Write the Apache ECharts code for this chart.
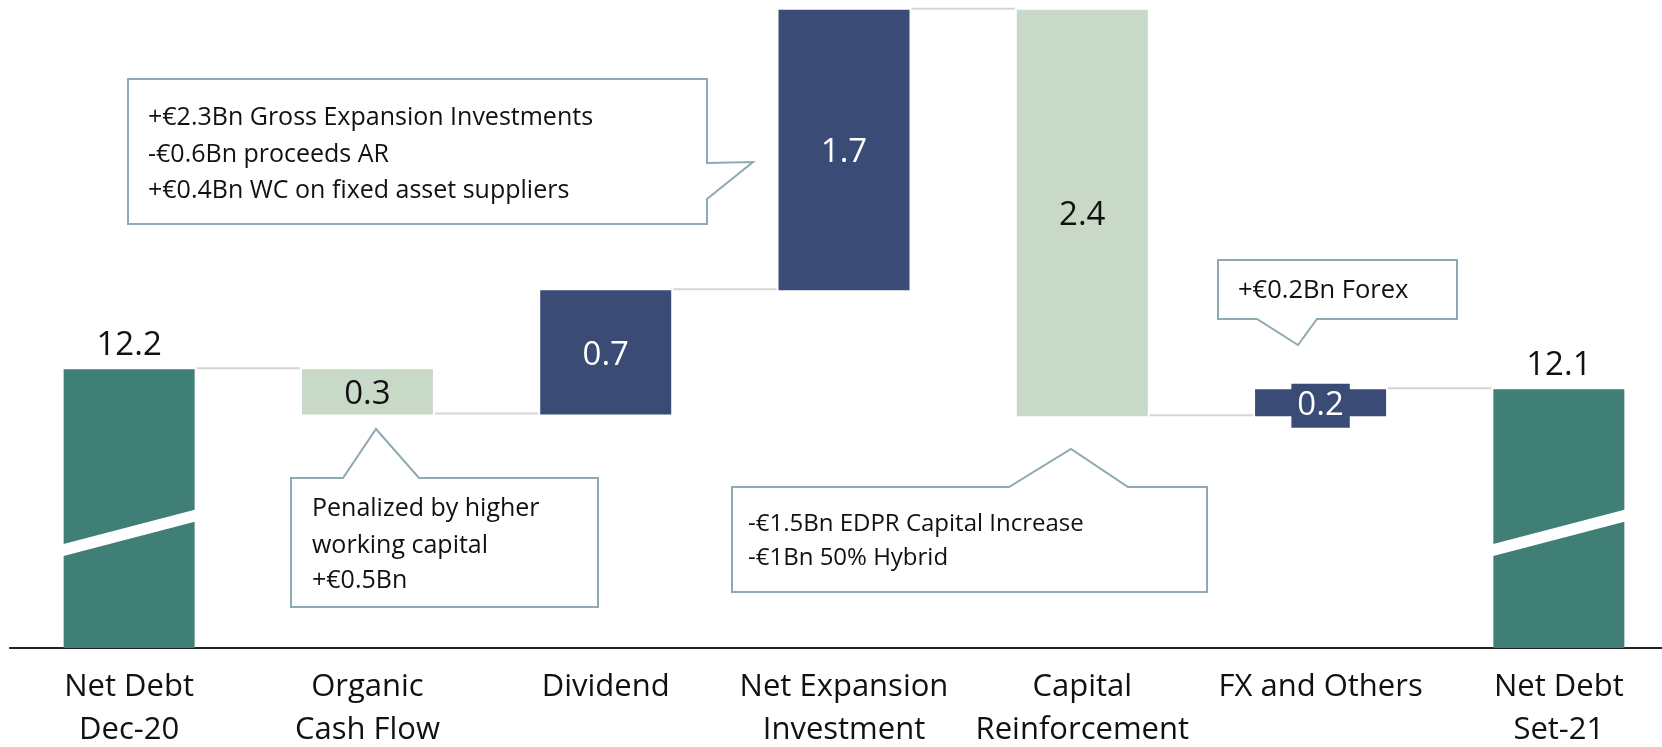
<!DOCTYPE html>
<html>
<head>
<meta charset="utf-8">
<script src="https://cdn.jsdelivr.net/npm/echarts@6/dist/echarts.min.js"></script>
<style>
html,body{margin:0;padding:0;background:#fff;}
#chart{width:1662px;height:747px;}
</style>
</head>
<body>
<div id="chart"></div>
<script>
// ---- data ----
const categories = ['Net Debt\nDec-20', 'Organic\nCash Flow', 'Dividend', 'Net Expansion\nInvestment', 'Capital\nReinforcement', 'FX and Others', 'Net Debt\nSet-21'];
const startValue = 12.2;
const changes = [-0.27, 0.74, 1.67, -2.42, 0.16];
const endValue = 12.08;
const breakBand = [11.12, 11.33]; // axis-break gap: value at left edge, value at right edge
const breakBars = [0, 6];
const callout1 = ['+€2.3Bn Gross Expansion Investments', '-€0.6Bn proceeds AR', '+€0.4Bn WC on fixed asset suppliers'];
const callout2 = ['Penalized by higher', 'working capital', '+€0.5Bn'];
const callout3 = ['-€1.5Bn EDPR Capital Increase', '-€1Bn 50% Hybrid'];
const callout4 = ['+€0.2Bn Forex'];

// ---- style ----
const TEAL = '#407f75', BLUE = '#3a4b75', LGREEN = '#c9d9c7', BORDER = '#8fa9b2', CONN = '#d6d6d6';
const FONT = '"Open Sans", sans-serif';
const BAR_W = 131;

// ---- build waterfall ----
const base = [], visible = [], levels = [];
let cur = startValue;
visible.push({ value: startValue, kind: 'total' });
base.push(0);
levels.push(cur);
changes.forEach(function (ch) {
  const lo = Math.min(cur, cur + ch);
  base.push(lo);
  visible.push({ value: Math.abs(ch), kind: ch < 0 ? 'down' : 'up' });
  cur += ch;
  levels.push(cur);
});
base.push(0);
visible.push({ value: endValue, kind: 'total' });

const visData = visible.map(function (d, i) {
  const color = d.kind === 'total' ? TEAL : (d.kind === 'up' ? BLUE : LGREEN);
  const txtColor = d.kind === 'up' ? '#ffffff' : '#111111';
  const label = {
    show: true,
    formatter: d.value.toFixed(1),
    fontFamily: FONT, fontSize: 33, color: txtColor,
    position: d.kind === 'total' ? 'top' : 'inside',
    distance: 6, lineHeight: 36,
    offset: d.kind === 'total' ? [0, 0] : [0, 3]
  };
  if (i === 5) {
    label.backgroundColor = BLUE;
    label.padding = [4, 6, 4, 6];
  }
  return { value: d.value, itemStyle: { color: color }, label: label };
});

const connData = levels.map(function (lv, i) { return [i, lv]; });
const breakData = breakBars.map(function (b) { return [b, breakBand[0], breakBand[1]]; });

function calloutPolygon(points) {
  return { type: 'polygon', shape: { points: points }, style: { fill: '#fff', stroke: BORDER, lineWidth: 2 }, z: 100 };
}
function calloutText(lines, x, ys, size) {
  return lines.map(function (t, k) {
    return { type: 'text', x: x, y: ys[k], z: 101,
      style: { text: t, font: size + 'px ' + FONT, fill: '#111', align: 'left', verticalAlign: 'middle' } };
  });
}

const graphics = [].concat(
  [calloutPolygon([[128,79],[707,79],[707,163],[753,162],[707,199],[707,224],[128,224]])],
  calloutText(callout1, 148, [118, 155, 191], 25),
  [calloutPolygon([[291,478],[343,478],[376,429],[419,478],[598,478],[598,607],[291,607]])],
  calloutText(callout2, 312, [509, 546, 581], 25),
  [calloutPolygon([[732,487],[1009,487],[1071,449],[1128,487],[1207,487],[1207,592],[732,592]])],
  calloutText(callout3, 748, [524, 558], 24),
  [calloutPolygon([[1218,260],[1457,260],[1457,319],[1317,319],[1298,345],[1257,319],[1218,319]])],
  calloutText(callout4, 1238, [291], 25.5)
);

const chart = echarts.init(document.getElementById('chart'));
chart.setOption({
  animation: false,
  backgroundColor: '#fff',
  grid: { left: 10, top: 3, width: 1668, height: 645, containLabel: false, outerBoundsMode: 'none' },
  xAxis: {
    type: 'category', data: categories,
    axisLine: { show: true, lineStyle: { color: '#222', width: 2 } },
    axisTick: { show: false },
    axisLabel: { interval: 0, fontFamily: FONT, fontSize: 31, color: '#111', lineHeight: 43, margin: 18 },
    splitLine: { show: false }
  },
  yAxis: { type: 'value', min: 10.54, max: 14.38, show: false, splitLine: { show: false } },
  series: [
    { type: 'bar', stack: 'w', data: base, barWidth: BAR_W, itemStyle: { color: 'transparent' }, silent: true, emphasis: { disabled: true } },
    { type: 'bar', stack: 'w', data: visData, barWidth: BAR_W, silent: true, emphasis: { disabled: true } },
    {
      type: 'custom', data: connData, silent: true, z: 1,
      renderItem: function (params, api) {
        const i = api.value(0);
        if (i >= categories.length - 1) return null;
        const p = api.coord([i, api.value(1)]);
        const q = api.coord([i + 1, api.value(1)]);
        return { type: 'line', shape: { x1: p[0] + BAR_W / 2 + 2, y1: p[1] - 1, x2: q[0] - BAR_W / 2 - 2, y2: p[1] - 1 },
          style: { stroke: CONN, lineWidth: 2 } };
      }
    },
    {
      type: 'custom', data: breakData, silent: true, z: 10,
      renderItem: function (params, api) {
        const i = api.value(0);
        const pl = api.coord([i, api.value(1)]);
        const pr = api.coord([i, api.value(2)]);
        const xl = pl[0] - BAR_W / 2 - 2, xr = pl[0] + BAR_W / 2 + 2;
        return { type: 'polygon', shape: { points: [[xl, pl[1] - 6], [xr, pr[1] - 6], [xr, pr[1] + 6], [xl, pl[1] + 6]] },
          style: { fill: '#fff' } };
      }
    }
  ],
  graphic: graphics
});
</script>
</body>
</html>
